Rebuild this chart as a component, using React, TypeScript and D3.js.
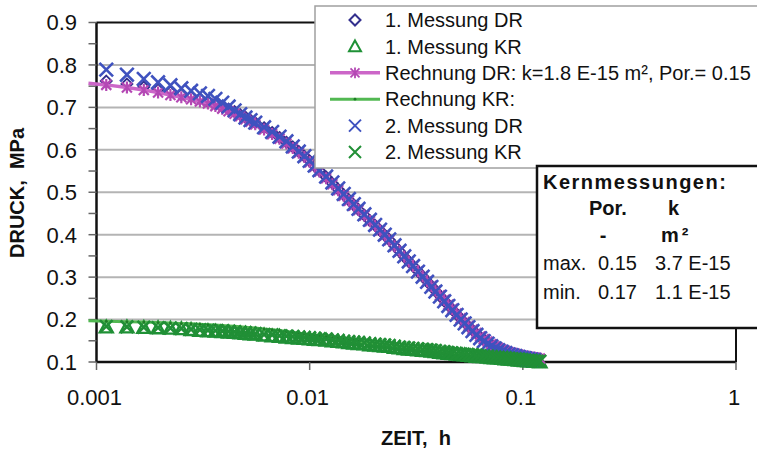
import React from "react";
import * as d3 from "d3";

// Zeitpunkte der Messwerte in Sekunden (1 s Raster am Anfang)
const zeitSek = [
  4, 5, 6, 7, 8, 9, 10, 11, 12, 13,
  14, 15, 16, 17, 18, 19, 20, 22, 24, 26,
  28, 30, 32, 34, 36, 38, 40, 43, 46, 49,
  52, 55, 58, 61, 65, 69, 73, 77, 81, 85,
  90, 95, 100, 105, 110, 116, 122, 128, 134, 140,
  147, 154, 161, 168, 176, 184, 192, 200, 209, 218,
  227, 236, 246, 256, 266, 276, 287, 298, 309, 320,
  332, 344, 356, 368, 381, 394, 407, 420, 433,
];
const rechnungZeitSek = [3.3, ...zeitSek];

const messung1DR = [
  0.762, 0.755, 0.748, 0.742, 0.736, 0.730, 0.725, 0.720, 0.714, 0.708,
  0.702, 0.696, 0.690, 0.683, 0.677, 0.670, 0.664, 0.652, 0.641, 0.629,
  0.618, 0.607, 0.596, 0.585, 0.574, 0.562, 0.551, 0.536, 0.521, 0.507,
  0.494, 0.482, 0.470, 0.459, 0.446, 0.433, 0.422, 0.410, 0.399, 0.388,
  0.374, 0.361, 0.348, 0.337, 0.326, 0.314, 0.302, 0.290, 0.279, 0.268,
  0.256, 0.245, 0.234, 0.224, 0.213, 0.202, 0.193, 0.184, 0.175, 0.167,
  0.159, 0.153, 0.147, 0.141, 0.136, 0.132, 0.128, 0.125, 0.122, 0.120,
  0.118, 0.116, 0.114, 0.113, 0.111, 0.110, 0.109,
];

const messung1KR = [
  0.182, 0.182, 0.181, 0.180, 0.179, 0.178, 0.176, 0.174, 0.173, 0.172,
  0.171, 0.170, 0.169, 0.168, 0.167, 0.166, 0.165, 0.163, 0.161, 0.160,
  0.158, 0.157, 0.156, 0.155, 0.154, 0.153, 0.152, 0.151, 0.149, 0.148,
  0.147, 0.145, 0.144, 0.143, 0.142, 0.140, 0.139, 0.138, 0.137, 0.136,
  0.134, 0.133, 0.131, 0.130, 0.129, 0.128, 0.127, 0.126, 0.125, 0.124,
  0.122, 0.121, 0.120, 0.119, 0.118, 0.117, 0.116, 0.115, 0.114, 0.113,
  0.112, 0.112, 0.111, 0.110, 0.109, 0.109, 0.108, 0.107, 0.106, 0.106,
  0.105, 0.104, 0.104, 0.103, 0.102, 0.102, 0.101, 0.101, 0.100,
];

const rechnungDR = [
  0.757,
  0.753, 0.747, 0.741, 0.735, 0.729, 0.724, 0.719, 0.714, 0.709, 0.703,
  0.697, 0.691, 0.685, 0.679, 0.672, 0.666, 0.660, 0.648, 0.637, 0.626,
  0.615, 0.604, 0.593, 0.583, 0.571, 0.560, 0.549, 0.533, 0.519, 0.505,
  0.492, 0.480, 0.469, 0.458, 0.445, 0.432, 0.421, 0.410, 0.398, 0.387,
  0.373, 0.361, 0.348, 0.337, 0.326, 0.314, 0.302, 0.290, 0.279, 0.268,
  0.257, 0.246, 0.235, 0.225, 0.214, 0.203, 0.194, 0.185, 0.176, 0.168,
  0.160, 0.154, 0.148, 0.142, 0.137, 0.133, 0.129, 0.126, 0.123, 0.121,
  0.119, 0.117, 0.115, 0.114, 0.112, 0.111, 0.110, 0.109, 0.108,
];

const rechnungKR = [
  0.197,
  0.196, 0.195, 0.194, 0.193, 0.192, 0.191, 0.190, 0.189, 0.188, 0.187,
  0.186, 0.185, 0.184, 0.183, 0.182, 0.181, 0.180, 0.178, 0.176, 0.174,
  0.172, 0.170, 0.168, 0.166, 0.165, 0.163, 0.162, 0.160, 0.158, 0.156,
  0.154, 0.152, 0.151, 0.149, 0.147, 0.145, 0.144, 0.142, 0.141, 0.139,
  0.138, 0.136, 0.135, 0.133, 0.132, 0.131, 0.129, 0.128, 0.127, 0.126,
  0.124, 0.123, 0.122, 0.121, 0.120, 0.119, 0.118, 0.117, 0.116, 0.115,
  0.114, 0.113, 0.112, 0.111, 0.110, 0.109, 0.109, 0.108, 0.107, 0.106,
  0.106, 0.105, 0.104, 0.104, 0.103, 0.102, 0.102, 0.101, 0.101,
];

const messung2DR = [
  0.789, 0.777, 0.767, 0.759, 0.752, 0.745, 0.739, 0.733, 0.727, 0.720,
  0.711, 0.702, 0.693, 0.684, 0.676, 0.670, 0.664, 0.653, 0.642, 0.631,
  0.620, 0.608, 0.596, 0.585, 0.574, 0.563, 0.552, 0.537, 0.523, 0.509,
  0.496, 0.484, 0.472, 0.461, 0.448, 0.435, 0.423, 0.412, 0.400, 0.389,
  0.375, 0.362, 0.349, 0.337, 0.326, 0.313, 0.301, 0.289, 0.277, 0.266,
  0.254, 0.243, 0.232, 0.222, 0.211, 0.200, 0.191, 0.182, 0.173, 0.164,
  0.156, 0.149, 0.143, 0.137, 0.132, 0.128, 0.124, 0.121, 0.118, 0.116,
  0.114, 0.112, 0.110, 0.109, 0.107, 0.106, 0.105,
];

const messung2KR = [
  0.184, 0.183, 0.182, 0.181, 0.180, 0.179, 0.177, 0.176, 0.175, 0.174,
  0.173, 0.172, 0.171, 0.170, 0.169, 0.168, 0.167, 0.165, 0.164, 0.162,
  0.161, 0.160, 0.159, 0.158, 0.157, 0.156, 0.155, 0.154, 0.152, 0.151,
  0.149, 0.148, 0.147, 0.146, 0.145, 0.143, 0.142, 0.141, 0.140, 0.139,
  0.137, 0.135, 0.134, 0.133, 0.132, 0.131, 0.130, 0.129, 0.128, 0.127,
  0.125, 0.124, 0.122, 0.121, 0.120, 0.119, 0.118, 0.117, 0.117, 0.116,
  0.115, 0.114, 0.114, 0.113, 0.112, 0.111, 0.111, 0.110, 0.109, 0.108,
  0.108, 0.107, 0.106, 0.105, 0.104, 0.104, 0.103, 0.102, 0.102,
];

const xTicks = [0.001, 0.01, 0.1, 1];
const xTickLabels = ["0.001", "0.01", "0.1", "1"];
const yTicks = [0.1, 0.2, 0.3, 0.4, 0.5, 0.6, 0.7, 0.8, 0.9];
const yTickLabels = ["0.1", "0.2", "0.3", "0.4", "0.5", "0.6", "0.7", "0.8", "0.9"];
const yMinorTicks = [0.15, 0.25, 0.35, 0.45, 0.55, 0.65, 0.75, 0.85];

const legendLabels = [
  "1. Messung DR",
  "1. Messung KR",
  "Rechnung DR: k=1.8 E-15 m², Por.= 0.15",
  "Rechnung KR:",
  "2. Messung DR",
  "2. Messung KR",
];

const kernTitel = "Kernmessungen:";
const kernKopf = ["Por.", "k"];
const kernEinheit = ["-", "m²"];
const kernZeilen = [
  ["max.", "0.15", "3.7 E-15"],
  ["min.", "0.17", "1.1 E-15"],
];

const FONT = "'Liberation Sans', Arial, Helvetica, sans-serif";

const C = {
  diamond: "#332f8e",
  triangle: "#1f9136",
  rechDR: "#cc66c8",
  rechDRMark: "#b448b4",
  rechKR: "#52b852",
  rechKRMark: "#1e7a28",
  x2DR: "#3f52bf",
  x2KR: "#218f36",
};

// marker shapes
const xPath = (s: number) => `M${-s},${-s}L${s},${s}M${-s},${s}L${s},${-s}`;
const starPath = (s: number) => `${xPath(s)}M0,${-s * 1.2}L0,${s * 1.2}`;
const diamondPath = (s: number) => `M0,${-s}L${s},0L0,${s}L${-s},0Z`;
const trianglePath = (s: number) => `M0,${-s}L${s},${s * 0.8}L${-s},${s * 0.8}Z`;

export default function App() {
  const left = 96.5;
  const right = 736;
  const top = 22.5;
  const bottom = 362;

  const x = d3.scaleLog().domain([0.001, 1]).range([left, right]);
  const y = d3.scaleLinear().domain([0.1, 0.9]).range([bottom, top]);

  const pts = (zeit: number[], werte: number[]) =>
    werte.map((v, i) => [x(zeit[i] / 3600), y(v)] as [number, number]);

  const line = d3.line<[number, number]>().x((d) => d[0]).y((d) => d[1]);

  const p1DR = pts(zeitSek, messung1DR);
  const p1KR = pts(zeitSek, messung1KR);
  const pRDR = pts(rechnungZeitSek, rechnungDR);
  const pRKR = pts(rechnungZeitSek, rechnungKR);
  const p2DR = pts(zeitSek, messung2DR);
  const p2KR = pts(zeitSek, messung2KR);

  const legX = 315;
  const legY = 6;
  const legRow = (i: number) => 20 + i * 26.4;
  const symX = 355;

  const kx = 537;
  const ky = 166;

  return (
    <svg
      width={757}
      height={453}
      style={{ position: "absolute", left: 0, top: 0, background: "#fff" }}
      fontFamily={FONT}
    >
      <rect x={0} y={0} width={757} height={453} fill="#fff" />

      {/* gridlines */}
      {yTicks.slice(1, -1).map((t) => (
        <line key={t} x1={left} x2={right} y1={y(t)} y2={y(t)} stroke="#b4b4b4" strokeWidth={2} />
      ))}

      {/* frame */}
      <line x1={left} x2={right} y1={top} y2={top} stroke="#111" strokeWidth={2} />
      <line x1={right} x2={right} y1={top} y2={bottom} stroke="#111" strokeWidth={2} />
      <line x1={left} x2={left} y1={top} y2={bottom} stroke="#111" strokeWidth={2.5} />
      <line x1={left} x2={right} y1={bottom} y2={bottom} stroke="#111" strokeWidth={2.5} />

      {/* y ticks */}
      {[...yTicks, ...yMinorTicks].map((t) => (
        <line key={"yt" + t} x1={left - 8} x2={left} y1={y(t)} y2={y(t)} stroke="#666" strokeWidth={1.5} />
      ))}
      {yTicks.map((t, i) => (
        <text key={"yl" + t} x={77} y={y(t)} dy="0.36em" textAnchor="end" fontSize={22} fill="#111">
          {yTickLabels[i]}
        </text>
      ))}

      {/* x ticks */}
      {xTicks.map((t, i) => (
        <g key={"xt" + t}>
          <line x1={x(t)} x2={x(t)} y1={bottom} y2={bottom + 8} stroke="#666" strokeWidth={1.5} />
          <text x={x(t) - 2} y={405} textAnchor="middle" fontSize={22} fill="#111">
            {xTickLabels[i]}
          </text>
        </g>
      ))}

      {/* axis titles */}
      <text x={416} y={445} textAnchor="middle" fontSize={20} fontWeight="bold" fill="#111" style={{ whiteSpace: "pre" }}>
        {"ZEIT,  h"}
      </text>
      <text
        transform="translate(24,193) rotate(-90)"
        textAnchor="middle"
        fontSize={20}
        fontWeight="bold"
        fill="#111"
        style={{ whiteSpace: "pre" }}
      >
        {"DRUCK,  MPa"}
      </text>

      {/* 1. Messung DR */}
      {p1DR.map((p, i) => (
        <path key={"d" + i} d={diamondPath(5.5)} transform={`translate(${p[0]},${p[1]})`} fill="none" stroke={C.diamond} strokeWidth={1.8} />
      ))}
      {/* 1. Messung KR */}
      {p1KR.map((p, i) => (
        <path key={"t" + i} d={trianglePath(6.5)} transform={`translate(${p[0]},${p[1]})`} fill="none" stroke={C.triangle} strokeWidth={2.4} />
      ))}
      {/* Rechnung DR */}
      <path d={line(pRDR) ?? ""} fill="none" stroke={C.rechDR} strokeWidth={3.5} />
      {pRDR.slice(1).map((p, i) => (
        <path key={"s" + i} d={starPath(5)} transform={`translate(${p[0]},${p[1]})`} fill="none" stroke={C.rechDRMark} strokeWidth={2.2} />
      ))}
      {/* Rechnung KR */}
      <path d={line(pRKR) ?? ""} fill="none" stroke={C.rechKR} strokeWidth={3} />
      {pRKR.slice(1).map((p, i) => (
        <circle key={"c" + i} cx={p[0]} cy={p[1]} r={1.5} fill={C.rechKRMark} />
      ))}
      {/* 2. Messung DR */}
      {p2DR.map((p, i) => (
        <path key={"x" + i} d={xPath(6.8)} transform={`translate(${p[0]},${p[1]})`} fill="none" stroke={C.x2DR} strokeWidth={2.6} />
      ))}
      {/* 2. Messung KR */}
      {p2KR.map((p, i) => (
        <path key={"g" + i} d={xPath(6.3)} transform={`translate(${p[0]},${p[1]})`} fill="none" stroke={C.x2KR} strokeWidth={2.6} />
      ))}

      {/* legend */}
      <rect x={legX} y={legY} width={460} height={162} fill="#fff" stroke="#a0a0a0" strokeWidth={1.5} />
      {legendLabels.map((lab, i) => {
        const cy = legRow(i);
        let sym: React.ReactNode = null;
        if (i === 0)
          sym = <path d={diamondPath(5.5)} transform={`translate(${symX},${cy})`} fill="none" stroke={C.diamond} strokeWidth={2} />;
        if (i === 1)
          sym = <path d={trianglePath(6)} transform={`translate(${symX},${cy})`} fill="none" stroke={C.triangle} strokeWidth={2} />;
        if (i === 2)
          sym = (
            <g>
              <line x1={330} x2={380} y1={cy} y2={cy} stroke={C.rechDR} strokeWidth={3.5} />
              <path d={starPath(4.5)} transform={`translate(${symX},${cy})`} fill="none" stroke={C.rechDRMark} strokeWidth={1.8} />
            </g>
          );
        if (i === 3)
          sym = (
            <g>
              <line x1={330} x2={380} y1={cy} y2={cy} stroke={C.rechKR} strokeWidth={3} />
              <circle cx={symX} cy={cy} r={1.4} fill={C.rechKRMark} />
            </g>
          );
        if (i === 4)
          sym = <path d={xPath(6)} transform={`translate(${symX},${cy})`} fill="none" stroke={C.x2DR} strokeWidth={2} />;
        if (i === 5)
          sym = <path d={xPath(6)} transform={`translate(${symX},${cy})`} fill="none" stroke={C.x2KR} strokeWidth={2} />;
        return (
          <g key={"lg" + i}>
            {sym}
            <text x={385} y={cy} dy="0.36em" fontSize={20} fill="#111">
              {lab}
            </text>
          </g>
        );
      })}

      {/* Kernmessungen box */}
      <rect x={kx} y={ky} width={240} height={162} fill="#fff" stroke="#111" strokeWidth={2.5} />
      <text x={543} y={189} fontSize={20} fontWeight="bold" letterSpacing={1.5} fill="#111">
        {kernTitel}
      </text>
      <text x={589} y={215} fontSize={20} fontWeight="bold" fill="#111">
        {kernKopf[0]}
      </text>
      <text x={668} y={215} fontSize={20} fontWeight="bold" fill="#111">
        {kernKopf[1]}
      </text>
      <text x={603} y={242} fontSize={20} fontWeight="bold" textAnchor="middle" fill="#111">
        {kernEinheit[0]}
      </text>
      <text x={661} y={242} fontSize={20} fontWeight="bold" letterSpacing={3} fill="#111">
        {kernEinheit[1]}
      </text>
      {kernZeilen.map((row, i) => (
        <g key={"kz" + i}>
          <text x={543} y={270 + i * 28.5} fontSize={20} fill="#111">
            {row[0]}
          </text>
          <text x={598} y={270 + i * 28.5} fontSize={20} fill="#111">
            {row[1]}
          </text>
          <text x={655} y={270 + i * 28.5} fontSize={20} fill="#111">
            {row[2]}
          </text>
        </g>
      ))}
    </svg>
  );
}
